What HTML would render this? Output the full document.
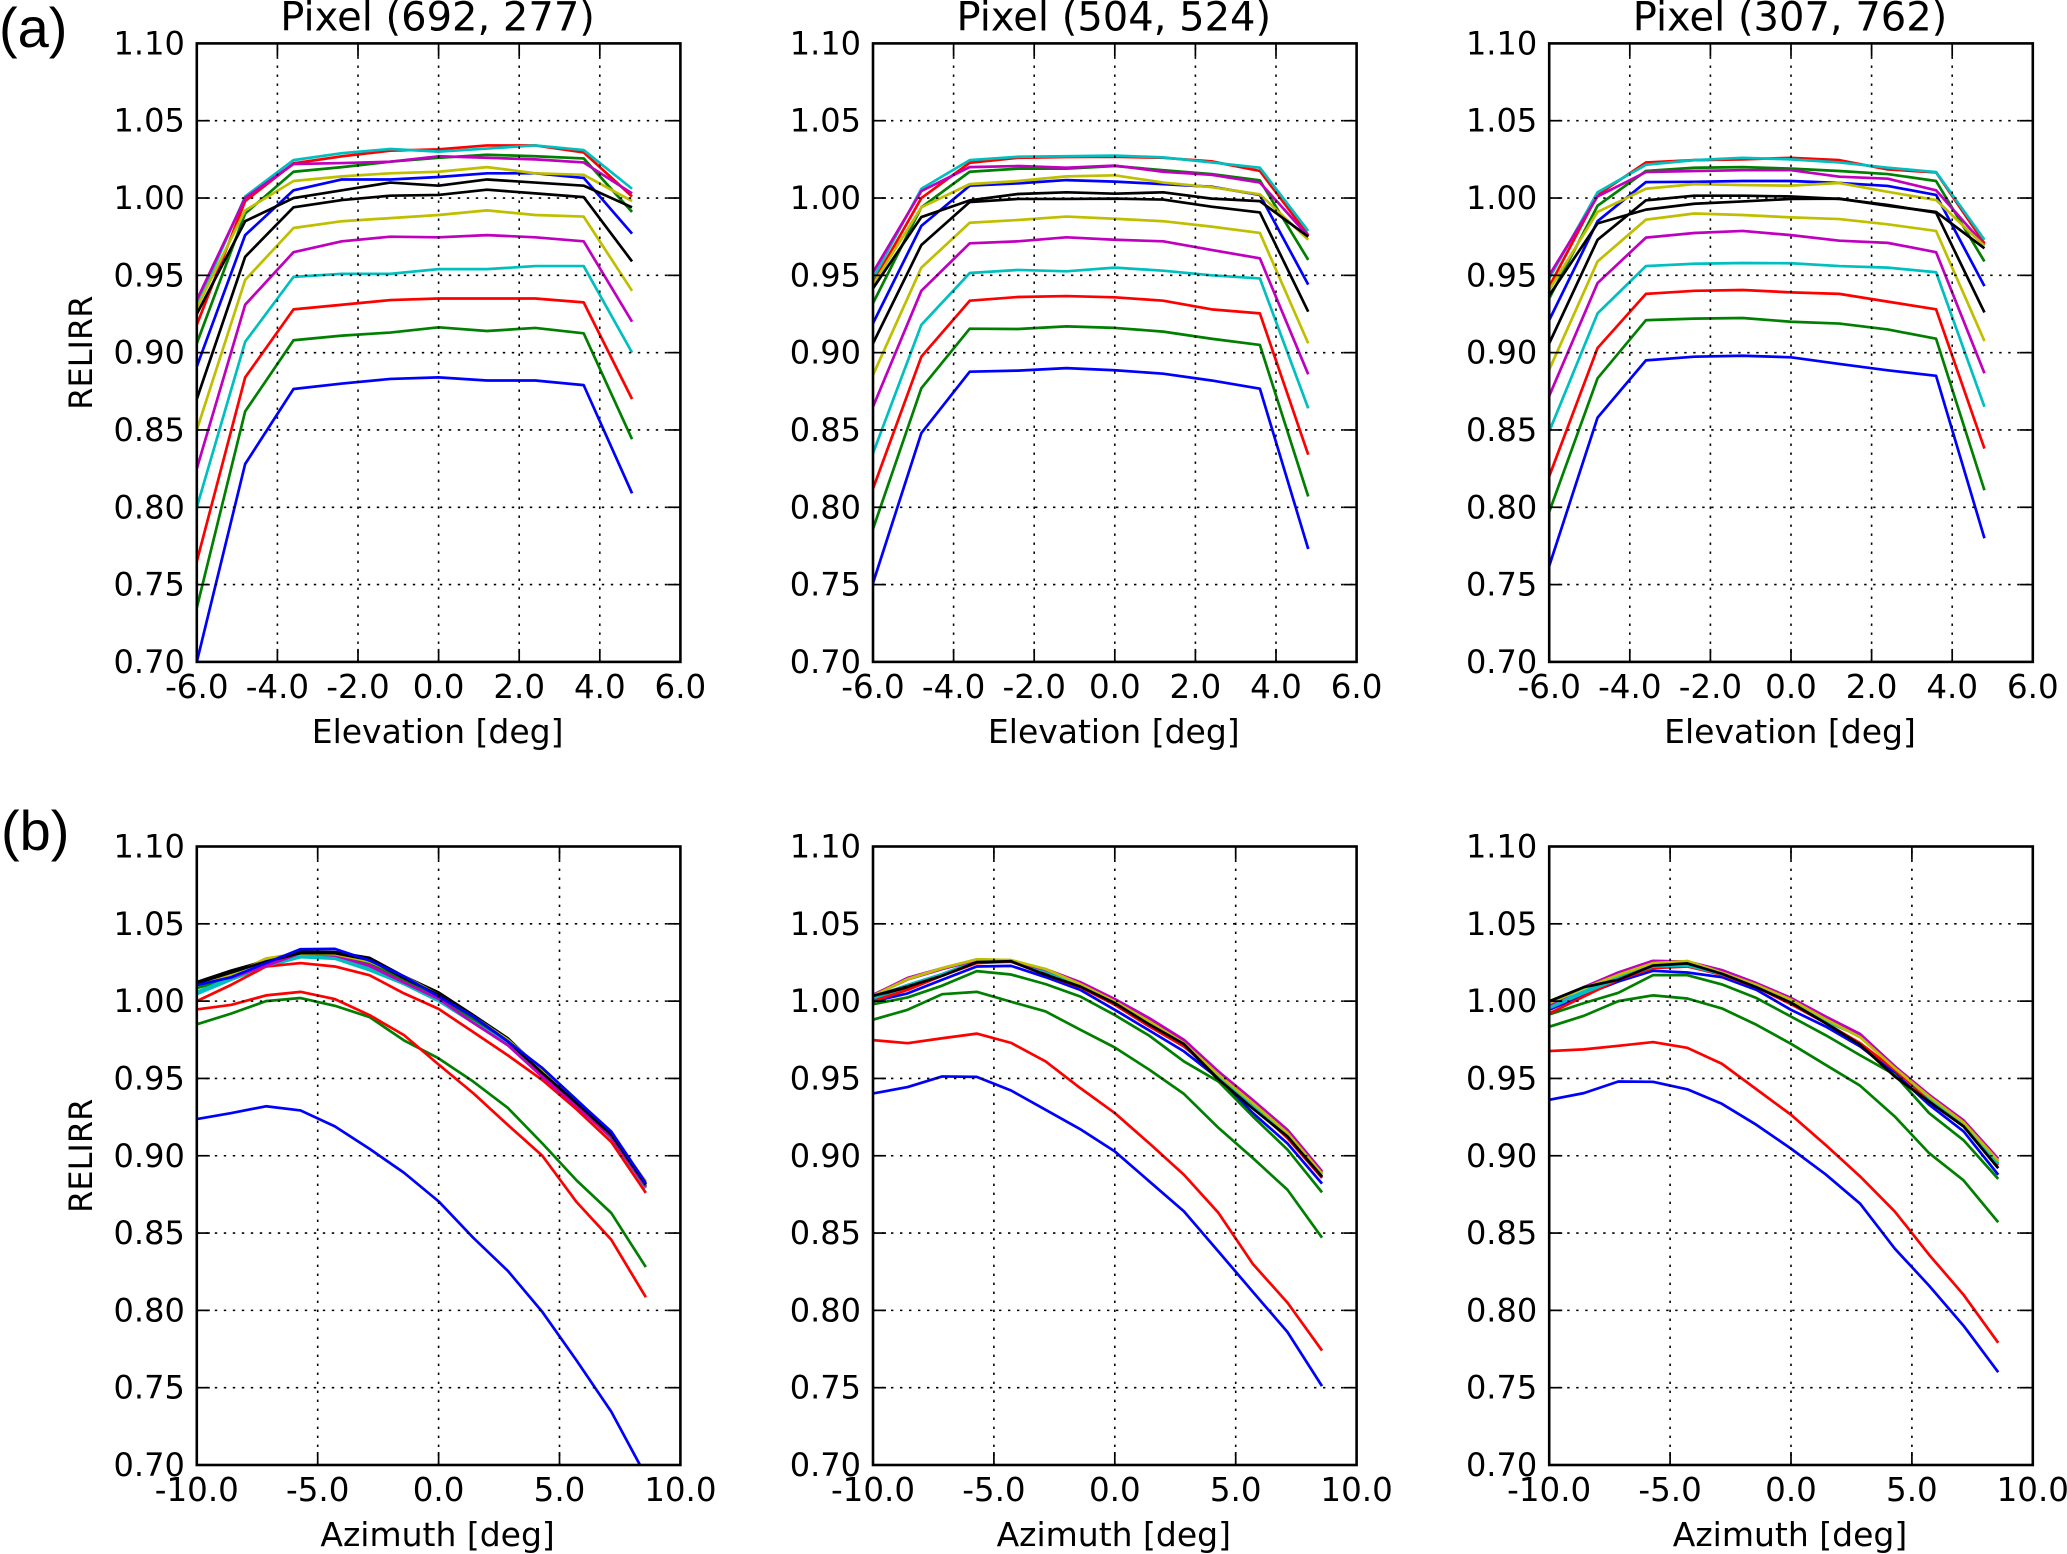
<!DOCTYPE html>
<html>
<head>
<meta charset="utf-8">
<title>RELIRR vs Elevation and Azimuth</title>
<style>
html,body{margin:0;padding:0;background:#fff;}
body{width:2067px;height:1554px;overflow:hidden;}
svg{display:block;}
text{font-family:"DejaVu Sans",sans-serif;fill:#000;}
</style>
</head>
<body>
<svg id="figure" xmlns="http://www.w3.org/2000/svg" width="2067" height="1554" viewBox="0 0 2067 1554">
<rect x="0" y="0" width="2067" height="1554" fill="#ffffff"/>
<text x="-1" y="47" font-size="56" style="font-family:'Liberation Sans',sans-serif">(a)</text>
<text x="1" y="850" font-size="56" style="font-family:'Liberation Sans',sans-serif">(b)</text>
</svg>
<script>
const elevationX = [-6,-4.8,-3.6,-2.4,-1.2,0,1.2,2.4,3.6,4.8];
const azimuthX = [-10,-8.57,-7.14,-5.71,-4.29,-2.86,-1.43,0,1.43,2.86,4.29,5.71,7.14,8.57];
const yTicks = [0.70,0.75,0.80,0.85,0.90,0.95,1.00,1.05,1.10];
const elevationTicks = [-6,-4,-2,0,2,4,6];
const azimuthTicks = [-10,-5,0,5,10];
const seriesColors = ['#0000ff','#007f00','#ff0000','#00bfbf','#bf00bf','#bfbf00','#000000','#0000ff','#007f00','#ff0000','#00bfbf','#bf00bf','#bfbf00','#000000'];
const seriesNames = ['blue-1','green-1','red-1','cyan-1','magenta-1','yellow-1','black-1','blue-2','green-2','red-2','cyan-2','magenta-2','yellow-2','black-2'];
const pixelTitles = ['Pixel (692, 277)','Pixel (504, 524)','Pixel (307, 762)'];
const defaultDrawOrder = [0,1,2,3,4,5,6,7,8,9,10,11,12,13];
const blueLastDrawOrder = [0,1,2,3,4,5,6,8,9,10,11,12,13,7];

const elevationPixel692 = [
[0.700,0.828,0.8765,0.880,0.883,0.884,0.882,0.882,0.879,0.809],
[0.735,0.862,0.908,0.911,0.913,0.9164,0.914,0.916,0.9125,0.844],
[0.765,0.884,0.928,0.931,0.934,0.935,0.935,0.935,0.9325,0.870],
[0.800,0.907,0.949,0.951,0.951,0.954,0.954,0.956,0.956,0.900],
[0.825,0.931,0.965,0.972,0.975,0.9746,0.976,0.9746,0.972,0.920],
[0.850,0.947,0.9806,0.985,0.987,0.989,0.992,0.989,0.988,0.940],
[0.870,0.962,0.994,0.9987,1.0015,1.002,1.0054,1.003,1.0006,0.959],
[0.891,0.976,1.005,1.012,1.012,1.0136,1.016,1.016,1.013,0.977],
[0.906,0.990,1.017,1.020,1.0235,1.026,1.028,1.027,1.0256,0.991],
[0.918,0.998,1.0224,1.027,1.0306,1.0315,1.034,1.034,1.0295,1.001],
[0.930,1.001,1.0245,1.029,1.0317,1.030,1.032,1.034,1.031,1.006],
[0.934,1.000,1.022,1.0226,1.0235,1.027,1.026,1.025,1.023,1.003],
[0.929,0.992,1.011,1.014,1.016,1.017,1.020,1.016,1.015,0.998],
[0.925,0.985,1.000,1.005,1.010,1.008,1.012,1.010,1.008,0.994]
];
const elevationPixel504 = [
[0.751,0.848,0.8877,0.8884,0.890,0.8886,0.8864,0.882,0.8767,0.773],
[0.786,0.877,0.9155,0.9153,0.917,0.916,0.9136,0.909,0.905,0.807],
[0.812,0.8974,0.9336,0.936,0.9366,0.9358,0.9336,0.928,0.9254,0.834],
[0.835,0.918,0.9515,0.9535,0.9526,0.955,0.953,0.950,0.948,0.864],
[0.865,0.940,0.9707,0.972,0.9746,0.973,0.972,0.9664,0.961,0.886],
[0.8856,0.955,0.984,0.9858,0.988,0.9866,0.985,0.9815,0.9774,0.906],
[0.906,0.9696,0.9974,0.9994,0.9994,0.9996,0.999,0.9944,0.9907,0.9265],
[0.919,0.982,1.008,1.0095,1.0116,1.0106,1.009,1.0073,1.002,0.944],
[0.932,0.994,1.017,1.019,1.019,1.0207,1.018,1.0155,1.0114,0.960],
[0.945,1.000,1.0228,1.026,1.0265,1.0267,1.026,1.0237,1.0175,0.976],
[0.948,1.006,1.0245,1.0267,1.027,1.0274,1.0263,1.023,1.0196,0.9787],
[0.952,1.0045,1.020,1.0207,1.0196,1.021,1.017,1.015,1.010,0.9754],
[0.944,0.994,1.009,1.011,1.014,1.0147,1.010,1.007,1.0024,0.973],
[0.9416,0.9877,0.9985,1.0026,1.0037,1.0028,1.0037,0.9996,0.998,0.975]
];
const elevationPixel307 = [
[0.762,0.858,0.895,0.8974,0.898,0.897,0.8927,0.8886,0.885,0.780],
[0.797,0.8834,0.921,0.922,0.9224,0.920,0.9188,0.915,0.909,0.811],
[0.820,0.903,0.938,0.940,0.9405,0.939,0.938,0.933,0.928,0.838],
[0.849,0.9254,0.956,0.9575,0.958,0.9578,0.956,0.955,0.952,0.865],
[0.872,0.945,0.9744,0.9774,0.9787,0.976,0.9724,0.971,0.965,0.8867],
[0.889,0.959,0.986,0.990,0.989,0.9875,0.9864,0.983,0.9787,0.9075],
[0.906,0.973,0.9985,1.0015,1.0015,1.001,0.9994,0.9955,0.9905,0.926],
[0.921,0.985,1.0103,1.0105,1.011,1.011,1.0097,1.0078,1.002,0.943],
[0.935,0.995,1.0175,1.0196,1.020,1.019,1.0175,1.0155,1.011,0.959],
[0.9427,1.002,1.023,1.0245,1.025,1.026,1.0245,1.0185,1.0166,0.9707],
[0.948,1.0037,1.0215,1.0245,1.026,1.025,1.023,1.0196,1.0168,0.973],
[0.950,1.001,1.0168,1.0175,1.018,1.018,1.0138,1.0125,1.005,0.9696],
[0.9405,0.991,1.006,1.009,1.0084,1.008,1.0097,1.004,0.9987,0.969],
[0.937,0.9836,0.9925,0.9963,0.9978,0.9994,0.9996,0.995,0.991,0.9675]
];
const azimuthPixel692 = [
[0.9237,0.9276,0.932,0.9293,0.919,0.9045,0.889,0.8705,0.847,0.8256,0.799,0.7675,0.7345,0.693],
[0.985,0.992,1.000,1.002,0.997,0.9897,0.9746,0.963,0.948,0.931,0.908,0.884,0.863,0.828],
[0.9946,0.9976,1.0037,1.006,1.0013,0.991,0.978,0.959,0.9405,0.920,0.900,0.870,0.8457,0.8085],
[1.0045,1.0138,1.0224,1.0284,1.0274,1.020,1.011,1.000,0.986,0.972,0.9535,0.933,0.9114,0.879],
[1.011,1.016,1.0235,1.0315,1.030,1.0235,1.0127,1.002,0.9869,0.972,0.952,0.933,0.9125,0.880],
[1.0106,1.017,1.0276,1.031,1.0315,1.0267,1.015,1.003,0.989,0.974,0.9556,0.935,0.9136,0.8834],
[1.0123,1.0198,1.026,1.032,1.0317,1.028,1.016,1.0056,0.991,0.976,0.9545,0.934,0.9147,0.8813],
[1.0103,1.0155,1.0246,1.0336,1.0338,1.0263,1.016,1.003,0.990,0.974,0.9567,0.936,0.9157,0.8823],
[1.0084,1.0149,1.023,1.030,1.0293,1.0252,1.0138,1.002,0.988,0.973,0.9567,0.9362,0.9147,0.880],
[1.000,1.0106,1.0224,1.0246,1.0224,1.0168,1.005,0.995,0.980,0.965,0.949,0.930,0.909,0.876],
[1.006,1.015,1.0228,1.029,1.028,1.0215,1.0115,1.0005,0.9865,0.9725,0.954,0.9335,0.912,0.8795],
[1.0106,1.0153,1.0228,1.031,1.0295,1.0228,1.012,1.0015,0.986,0.9715,0.951,0.932,0.912,0.880],
[1.0106,1.0175,1.0267,1.0306,1.0304,1.0256,1.016,1.004,0.990,0.975,0.9556,0.935,0.9136,0.8823],
[1.0116,1.0185,1.0256,1.031,1.031,1.0267,1.0149,1.004,0.990,0.974,0.9535,0.934,0.9136,0.8813]
];
const azimuthPixel504 = [
[0.9403,0.9444,0.9513,0.951,0.9422,0.9297,0.9172,0.9028,0.8834,0.864,0.838,0.812,0.786,0.751],
[0.988,0.9944,1.0045,1.006,0.9996,0.9933,0.9815,0.970,0.9556,0.940,0.918,0.8985,0.878,0.847],
[0.9748,0.9728,0.976,0.979,0.973,0.961,0.9438,0.9276,0.908,0.8877,0.863,0.830,0.805,0.774],
[1.001,1.0088,1.0168,1.0254,1.0254,1.018,1.009,0.9987,0.985,0.9707,0.9514,0.931,0.9127,0.8865],
[1.004,1.015,1.0213,1.027,1.026,1.0207,1.0123,1.0013,0.989,0.975,0.9545,0.936,0.9168,0.890],
[1.0034,1.0142,1.0213,1.027,1.0265,1.0207,1.011,0.9998,0.9869,0.9728,0.9524,0.934,0.9147,0.8884],
[1.003,1.009,1.017,1.0256,1.0256,1.0175,1.009,0.999,0.9853,0.9718,0.949,0.931,0.912,0.886],
[0.9998,1.005,1.0138,1.0224,1.0228,1.0155,1.0073,0.9944,0.981,0.9675,0.950,0.9276,0.908,0.882],
[0.998,1.0024,1.010,1.0194,1.0172,1.011,1.003,0.991,0.9776,0.961,0.948,0.9254,0.904,0.8763],
[1.000,1.0073,1.0164,1.0246,1.0256,1.017,1.009,0.9976,0.9836,0.9707,0.9524,0.932,0.9114,0.8856],
[1.0026,1.0105,1.0175,1.0261,1.0258,1.0192,1.0099,0.9991,0.9858,0.9729,0.9518,0.932,0.9136,0.8878],
[1.0036,1.014,1.0207,1.0265,1.026,1.0203,1.0116,1.0009,0.988,0.974,0.9535,0.935,0.9157,0.889],
[1.0034,1.0142,1.0213,1.027,1.0265,1.0207,1.011,0.9998,0.9869,0.9728,0.9524,0.934,0.9147,0.8884],
[1.0034,1.0094,1.0164,1.0252,1.0258,1.017,1.0094,0.9987,0.9849,0.9722,0.9494,0.9305,0.9125,0.8865]
];
const azimuthPixel307 = [
[0.9362,0.9405,0.948,0.9478,0.943,0.9336,0.920,0.9046,0.888,0.869,0.840,0.816,0.790,0.760],
[0.9834,0.9905,1.000,1.0037,1.0017,0.9953,0.9847,0.9724,0.9588,0.9453,0.9254,0.9017,0.884,0.857],
[0.9677,0.9688,0.9711,0.9735,0.9698,0.9595,0.943,0.9265,0.907,0.8866,0.864,0.836,0.810,0.779],
[0.9966,1.0063,1.0155,1.0235,1.0241,1.0185,1.0105,1.0013,0.988,0.9783,0.958,0.9387,0.9215,0.8967],
[0.9976,1.009,1.0185,1.026,1.0256,1.020,1.0116,1.002,0.990,0.9787,0.9578,0.9394,0.9228,0.898],
[0.9987,1.0084,1.017,1.0246,1.0259,1.0185,1.0105,1.0009,0.9883,0.9767,0.9567,0.9383,0.9215,0.896],
[0.9998,1.009,1.0138,1.023,1.0244,1.0177,1.009,0.999,0.9858,0.9718,0.9513,0.935,0.919,0.892],
[0.9944,1.004,1.0127,1.0196,1.0185,1.0155,1.0073,0.9944,0.9836,0.9707,0.9535,0.933,0.9157,0.8877],
[0.9914,0.9987,1.0054,1.0168,1.0168,1.0108,1.002,0.990,0.978,0.965,0.9524,0.9276,0.910,0.885],
[0.992,1.003,1.0138,1.0213,1.0224,1.017,1.009,0.998,0.9858,0.9728,0.9556,0.936,0.919,0.894],
[0.9955,1.0052,1.0144,1.0224,1.023,1.0175,1.0095,1.0005,0.987,0.9773,0.957,0.9375,0.92,0.895],
[0.9976,1.009,1.0185,1.026,1.0256,1.020,1.0116,1.002,0.990,0.9787,0.9578,0.9394,0.9228,0.898],
[0.9987,1.0084,1.017,1.0246,1.0259,1.0185,1.0105,1.0009,0.9883,0.9767,0.9567,0.9383,0.9215,0.8967],
[0.9998,1.009,1.0138,1.023,1.0244,1.0177,1.009,0.999,0.9858,0.9718,0.9513,0.935,0.919,0.892]
];

const SVG_NS = 'http://www.w3.org/2000/svg';
const figure = document.getElementById('figure');
const AXES_W = 483.6;
const AXES_H = 618.5;
const Y_MIN = 0.70;
const Y_MAX = 1.10;

function make(parent, tag, attrs, text) {
  const el = document.createElementNS(SVG_NS, tag);
  for (const k in attrs) el.setAttribute(k, attrs[k]);
  if (text !== undefined) el.textContent = text;
  parent.appendChild(el);
  return el;
}

function drawPanel(id, left, top, xValues, xMin, xMax, xTickValues, rows, drawOrder, xLabel, title, showYLabel) {
  const xScale = v => left + (v - xMin) / (xMax - xMin) * AXES_W;
  const yScale = v => top + AXES_H - (v - Y_MIN) / (Y_MAX - Y_MIN) * AXES_H;
  const bottom = top + AXES_H;
  const right = left + AXES_W;

  const panel = make(figure, 'g', {id: id});
  
  

  const defs = make(panel, 'defs', {});
  const clip = make(defs, 'clipPath', {id: id + '-clip'});
  make(clip, 'rect', {x: left, y: top, width: AXES_W, height: AXES_H});

  const lineGroup = make(panel, 'g', {'clip-path': 'url(#' + id + '-clip)', fill: 'none'});
  
  
  drawOrder.forEach(i => {
    const vals = rows[i];
    const d = vals.map((v, j) => xScale(xValues[j]).toFixed(2) + ',' + yScale(v).toFixed(2)).join(' ');
    const line = make(lineGroup, 'polyline', {points: d, stroke: seriesColors[i], 'stroke-width': 2.7, 'stroke-linejoin': 'round'});
    
    
  });

  const grid = make(panel, 'g', {stroke: '#000', 'stroke-width': 1.6, 'stroke-dasharray': '2.4 6.6', fill: 'none'});
  
  
  const ticks = make(panel, 'g', {stroke: '#000', 'stroke-width': 1.7});
  
  

  yTicks.forEach(v => {
    const y = yScale(v);
    if (v > Y_MIN + 1e-6 && v < Y_MAX - 1e-6) {
      make(grid, 'line', {x1: left, x2: right, y1: y, y2: y});
      make(ticks, 'line', {x1: left, x2: left + 13, y1: y, y2: y});
      make(ticks, 'line', {x1: right - 13, x2: right, y1: y, y2: y});
    }
    const label = make(panel, 'text', {x: left - 12, y: y + 11, 'font-size': 32, 'text-anchor': 'end'}, v.toFixed(2));
    
    
  });

  xTickValues.forEach(v => {
    const x = xScale(v);
    if (v > xMin && v < xMax) {
      make(grid, 'line', {x1: x, x2: x, y1: bottom, y2: top});
      make(ticks, 'line', {x1: x, x2: x, y1: bottom, y2: bottom - 13});
      make(ticks, 'line', {x1: x, x2: x, y1: top, y2: top + 13});
    }
    const label = make(panel, 'text', {x: x, y: bottom + 36, 'font-size': 32.5, 'text-anchor': 'middle'}, v.toFixed(1));
    
    
  });

  const frame = make(panel, 'rect', {x: left, y: top, width: AXES_W, height: AXES_H, fill: 'none', stroke: '#000', 'stroke-width': 2.6});
  
  

  const xTitle = make(panel, 'text', {x: left + AXES_W / 2 - 1, y: bottom + 81, 'font-size': 33, 'text-anchor': 'middle'}, xLabel);
  
  

  if (title) {
    const t = make(panel, 'text', {x: left + AXES_W / 2 - 1, y: top - 13, 'font-size': 40, 'text-anchor': 'middle'}, title);
    
    
  }
  if (showYLabel) {
    const cy = top + AXES_H / 2;
    const yTitle = make(panel, 'text', {x: 92, y: cy, 'font-size': 32, 'text-anchor': 'middle', transform: 'rotate(-90 92 ' + cy + ')'}, 'RELIRR');
    
    
  }
}

const panelLefts = [196.8, 873, 1549.2];
const rowTops = [43.4, 846.5];
const elevationRows = [elevationPixel692, elevationPixel504, elevationPixel307];
const azimuthRows = [azimuthPixel692, azimuthPixel504, azimuthPixel307];
const azimuthDrawOrders = [blueLastDrawOrder, defaultDrawOrder, defaultDrawOrder];
panelLefts.forEach((left, c) => {
  drawPanel('elev-' + c, left, rowTops[0], elevationX, -6, 6, elevationTicks, elevationRows[c], defaultDrawOrder, 'Elevation [deg]', pixelTitles[c], c === 0);
  drawPanel('azim-' + c, left, rowTops[1], azimuthX, -10, 10, azimuthTicks, azimuthRows[c], azimuthDrawOrders[c], 'Azimuth [deg]', null, c === 0);
});
</script>
</body>
</html>
